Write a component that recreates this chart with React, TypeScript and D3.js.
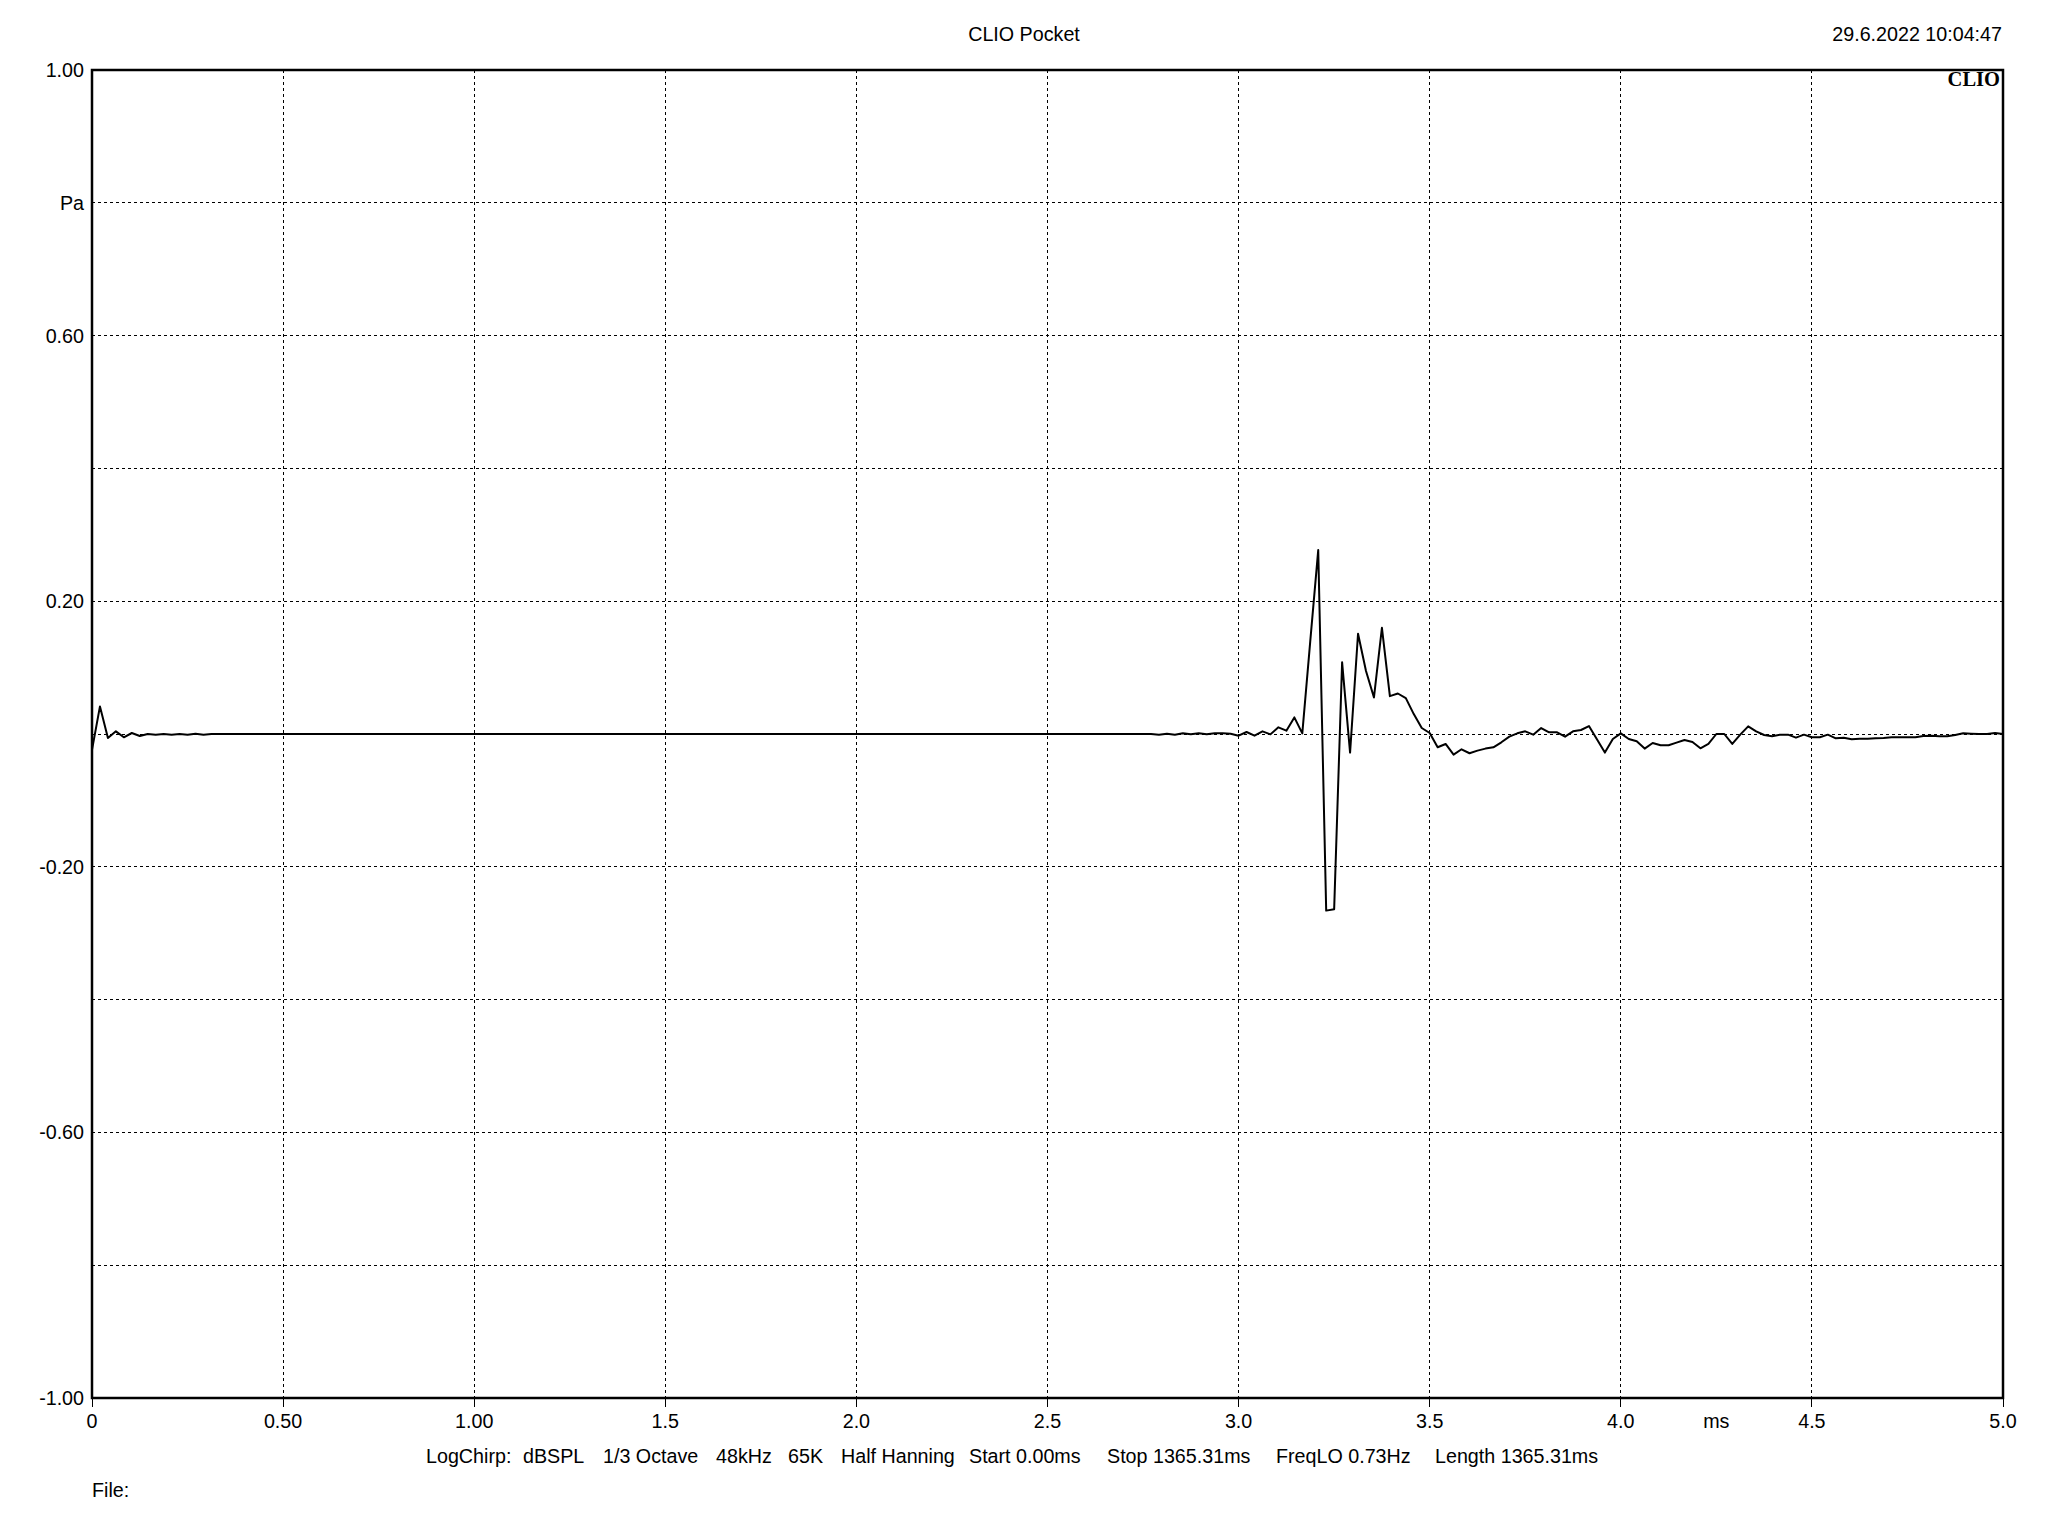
import * as d3 from 'd3';

// impulse response, sampled at 48 kHz (time in ms, pressure in Pa)
const sampleRate = 48;
const headStart = 0;
const headValues = [
  -0.024, 0.0415, -0.006, 0.004, -0.005, 0.0015, -0.003, 0, -0.001, 0, -0.001, 0, -0.001, 0.0005, -0.001, 0,
];
const tailStart = 133;
const tailValues = [
  0, -0.001, 0.0005, -0.001, 0.001, -0.0005, 0.001, -0.0005, 0.001, 0.001, 0.0005, -0.0025,
  0.003, -0.0025, 0.004, -0.0005, 0.01, 0.005, 0.025, 0.001, 0.14, 0.277, -0.266, -0.264,
  0.108, -0.028, 0.151, 0.095, 0.055, 0.16, 0.057, 0.061, 0.054, 0.03, 0.009, 0.0015,
  -0.02, -0.015, -0.031, -0.023, -0.029, -0.025, -0.022, -0.02, -0.0125, -0.004, 0.001, 0.004,
  -0.001, 0.009, 0.0025, 0.0025, -0.004, 0.004, 0.006, 0.012, -0.008, -0.028, -0.0075, 0.001,
  -0.0075, -0.011, -0.022, -0.0135, -0.017, -0.017, -0.013, -0.009, -0.012, -0.0215, -0.015, 0,
  0, -0.015, -0.001, 0.0115, 0.004, -0.0015, -0.0035, -0.001, -0.001, -0.0055, -0.001, -0.005,
  -0.005, -0.001, -0.0065, -0.0055, -0.008, -0.007, -0.007, -0.0065, -0.006, -0.005, -0.005, -0.005,
  -0.005, -0.003, -0.0025, -0.0035, -0.0035, -0.0015, 0.001, 0.0005, 0, 0, 0.0015, 0,
];

const xTicks = [0, 0.5, 1.0, 1.5, 2.0, 2.5, 3.0, 3.5, 4.0, 4.5, 5.0];
const xTickLabels = ['0', '0.50', '1.00', '1.5', '2.0', '2.5', '3.0', '3.5', '4.0', '4.5', '5.0'];
const yTicks = [1.0, 0.8, 0.6, 0.4, 0.2, 0, -0.2, -0.4, -0.6, -0.8, -1.0];
const yTickLabels = ['1.00', 'Pa', '0.60', '', '0.20', '', '-0.20', '', '-0.60', '', '-1.00'];

const infoItems = [
  { text: 'LogChirp:', x: 426 },
  { text: 'dBSPL', x: 523 },
  { text: '1/3 Octave', x: 603 },
  { text: '48kHz', x: 716 },
  { text: '65K', x: 788 },
  { text: 'Half Hanning', x: 841 },
  { text: 'Start 0.00ms', x: 969 },
  { text: 'Stop 1365.31ms', x: 1107 },
  { text: 'FreqLO 0.73Hz', x: 1276 },
  { text: 'Length 1365.31ms', x: 1435 },
];

const W = 2048;
const H = 1536;
const margin = { top: 70, right: 45, bottom: 138, left: 92 };
const font = '"Liberation Sans", Arial, sans-serif';
const fs = 19.7;

export default function App() {
  const innerW = W - margin.left - margin.right;
  const innerH = H - margin.top - margin.bottom;
  const x = d3.scaleLinear().domain([0, 5]).range([margin.left, margin.left + innerW]);
  const y = d3.scaleLinear().domain([-1, 1]).range([margin.top + innerH, margin.top]);

  const points: Array<[number, number]> = [
    ...headValues.map((v, i) => [(headStart + i) / sampleRate, v] as [number, number]),
    ...tailValues.map((v, i) => [(tailStart + i) / sampleRate, v] as [number, number]),
  ];
  const line = d3
    .line<[number, number]>()
    .x((d) => x(d[0]))
    .y((d) => y(d[1]));

  const x0 = x(0);
  const x1 = x(5);
  const yTop = y(1);
  const yBot = y(-1);

  return (
    <div style={{ position: 'absolute', left: 0, top: 0 }}>
      <svg width={W} height={H} style={{ display: 'block', background: '#fff' }} fontFamily={font}>
        <rect x={0} y={0} width={W} height={H} fill="#fff" />

        {/* grid */}
        {yTicks.slice(1, -1).map((t) => (
          <line key={'h' + t} x1={x0} x2={x1} y1={y(t)} y2={y(t)} stroke="#000" strokeWidth={1} strokeDasharray="3,3" shapeRendering="crispEdges" />
        ))}
        {xTicks.slice(1, -1).map((t) => (
          <line key={'v' + t} x1={x(t)} x2={x(t)} y1={yTop} y2={yBot} stroke="#000" strokeWidth={1} strokeDasharray="3,3" shapeRendering="crispEdges" />
        ))}

        {/* x ticks below the frame */}
        {xTicks.map((t) => (
          <line key={'xt' + t} x1={x(t)} x2={x(t)} y1={yBot} y2={yBot + 9} stroke="#000" strokeWidth={1} shapeRendering="crispEdges" />
        ))}

        <path d={line(points) || ''} fill="none" stroke="#000" strokeWidth={2} strokeLinejoin="round" />

        {/* frame */}
        <rect x={x0} y={yTop} width={x1 - x0} height={yBot - yTop} fill="none" stroke="#000" strokeWidth={2.5} />

        {yTicks.map((t, i) => (
          <text key={'yl' + t} x={84} y={y(t)} dy="0.36em" textAnchor="end" fontSize={fs} fill="#000">
            {yTickLabels[i]}
          </text>
        ))}
        {xTicks.map((t, i) => (
          <text key={'xl' + t} x={x(t)} y={1421} dy="0.36em" textAnchor="middle" fontSize={fs} fill="#000">
            {xTickLabels[i]}
          </text>
        ))}
        <text x={x(4.25)} y={1421} dy="0.36em" textAnchor="middle" fontSize={fs} fill="#000">ms</text>

        <text x={W / 2} y={34} dy="0.36em" textAnchor="middle" fontSize={fs} fill="#000">CLIO Pocket</text>
        <text x={2002} y={34} dy="0.36em" textAnchor="end" fontSize={fs} fill="#000">29.6.2022 10:04:47</text>
        <text x={2000} y={78.5} dy="0.36em" textAnchor="end" fontSize={20.5} fontWeight="bold" fontFamily='"Liberation Serif", "DejaVu Serif", serif' fill="#000">CLIO</text>

        {infoItems.map((d) => (
          <text key={d.text} x={d.x} y={1456} dy="0.36em" fontSize={fs} fill="#000">{d.text}</text>
        ))}
        <text x={92} y={1490} dy="0.36em" fontSize={fs} fill="#000">File:</text>
      </svg>
    </div>
  );
}
